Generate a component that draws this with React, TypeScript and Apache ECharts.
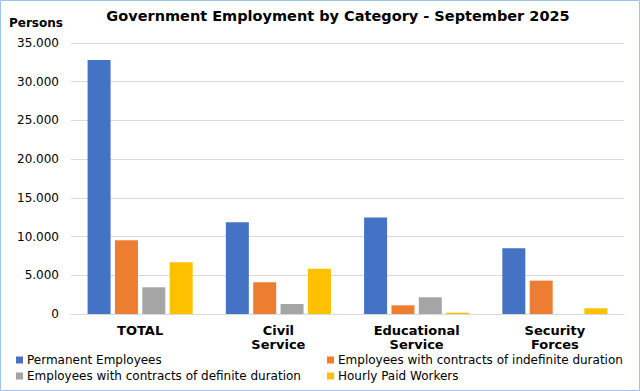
import React, { useEffect, useRef } from "react";
import * as echarts from "echarts";

const categories = ["TOTAL", "Civil\nService", "Educational\nService", "Security\nForces"];
const seriesNames = [
  "Permanent Employees",
  "Employees with contracts of indefinite duration",
  "Employees with contracts of definite duration",
  "Hourly Paid Workers",
];
const permanent = [32800, 11850, 12450, 8490];
const indefinite = [9530, 4100, 1120, 4310];
const definite = [3450, 1290, 2160, 0];
const hourly = [6680, 5860, 170, 740];
const colors = ["#4472C4", "#ED7D31", "#A5A5A5", "#FFC000"];

const FONT = "DejaVu Sans";

export default function App() {
  const ref = useRef<HTMLDivElement>(null);
  useEffect(() => {
    document.body.style.margin = "0";
    const chart = echarts.init(ref.current!, null, { renderer: "svg" });
    const values = [permanent, indefinite, definite, hourly];
    const legendCommon = {
      orient: "vertical",
      top: 353,
      padding: 0,
      itemWidth: 7,
      itemHeight: 7,
      itemGap: 2,
      icon: "rect",
      textStyle: { fontFamily: FONT, fontSize: 12, color: "#000", lineHeight: 14, padding: [0, 0, 0, -1] },
    };
    chart.setOption({
      animation: false,
      backgroundColor: "#ffffff",
      textStyle: { fontFamily: FONT },
      grid: { left: 71, right: 16, top: 43, bottom: 77 },
      graphic: [
        {
          type: "text",
          x: 338,
          y: 16,
          style: {
            text: "Government Employment by Category - September 2025",
            font: `bold 14.5px '${FONT}'`,
            fill: "#000",
            textAlign: "center",
            textVerticalAlign: "middle",
          },
        },
        {
          type: "text",
          x: 9,
          y: 23,
          style: {
            text: "Persons",
            font: `bold 12px '${FONT}'`,
            fill: "#000",
            textAlign: "left",
            textVerticalAlign: "middle",
          },
        },
        {
          type: "rect",
          shape: { x: 0.5, y: 0.5, width: 639, height: 390 },
          style: { fill: "none", stroke: "#9DC3E6", lineWidth: 1 },
          silent: true,
        },
      ],
      legend: [
        { ...legendCommon, data: [seriesNames[0], seriesNames[2]], left: 16 },
        { ...legendCommon, data: [seriesNames[1], seriesNames[3]], left: 327 },
      ],
      xAxis: {
        type: "category",
        data: categories,
        axisLine: { lineStyle: { color: "#D9D9D9" } },
        axisTick: { show: false },
        axisLabel: {
          fontFamily: FONT,
          fontWeight: "bold",
          fontSize: 13,
          color: "#000",
          lineHeight: 14,
          margin: 9,
          verticalAlign: "top",
        },
      },
      yAxis: {
        type: "value",
        min: 0,
        max: 35000,
        interval: 5000,
        axisLine: { show: false },
        axisTick: { show: false },
        splitLine: { lineStyle: { color: "#D9D9D9" } },
        axisLabel: {
          fontFamily: FONT,
          fontSize: 12,
          color: "#000",
          margin: 12,
          formatter: (v: number) => (v === 0 ? "0" : v.toLocaleString("de-DE")),
        },
      },
      series: seriesNames.map((name, i) => ({
        name,
        type: "bar",
        data: values[i],
        barGap: "19%",
        barCategoryGap: "24%",
        itemStyle: { color: colors[i] },
      })),
    });
    return () => chart.dispose();
  }, []);
  return <div ref={ref} style={{ width: 640, height: 391 }} />;
}
